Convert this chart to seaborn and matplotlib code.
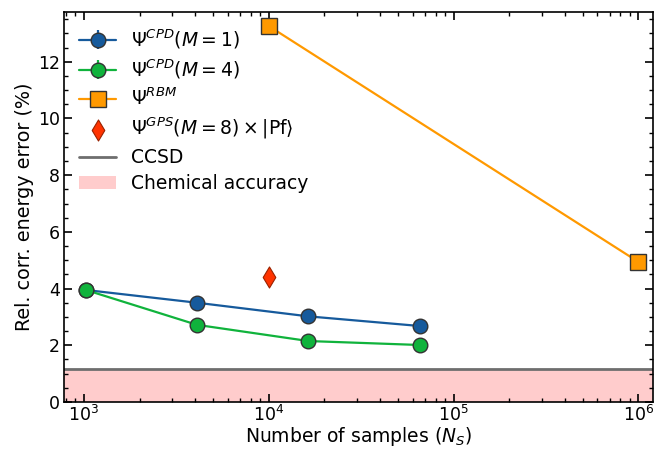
import matplotlib
matplotlib.use("Agg")
import matplotlib.pyplot as plt
import seaborn as sns
import numpy as np
import pandas as pd

# Data
ns_cpd = [1024, 4096, 16384, 65536]
err_cpd_m1 = [3.95, 3.50, 3.02, 2.68]
err_cpd_m4 = [3.95, 2.72, 2.15, 2.01]
sd_cpd_m1 = [0.03, 0.03, 0.03, 0.03]
sd_cpd_m4 = [0.03, 0.03, 0.03, 0.03]
ns_rbm = [10000, 1000000]
err_rbm = [13.26, 4.94]
ns_gps = [10000]
err_gps = [4.41]
ccsd_err = 1.15
chem_acc = 1.15

sns.set_theme(style="ticks")
plt.rcParams['font.family'] = ['DejaVu Sans']
plt.rcParams['mathtext.fontset'] = 'dejavusans'
plt.rcParams['font.size'] = 13.5
for k in ['text.color', 'axes.labelcolor', 'xtick.color', 'ytick.color', 'axes.edgecolor']:
    plt.rcParams[k] = 'black'
plt.rcParams['xtick.major.pad'] = 2.0
plt.rcParams['ytick.major.pad'] = 3.0

fig = plt.figure(figsize=(6.55, 4.49), dpi=100)
ax = fig.add_axes([0.0977, 0.1047, 0.8993, 0.8683])

blue = "#165a9c"
green = "#10b33c"
orange = "#ff9900"
red = "#ff3300"
edge = "#333333"

ax.axhspan(0, chem_acc, color="#ffcccc", lw=0, label="Chemical accuracy", zorder=0)
ax.axhline(ccsd_err, color="#6e6e6e", lw=2, label="CCSD", zorder=1)

ax.errorbar(ns_cpd, err_cpd_m1, yerr=sd_cpd_m1, color=blue, lw=1.6, marker="o",
            ms=10.5, mfc=blue, mec=edge, mew=1, label=r"$\Psi^{CPD}(M=1)$", zorder=3)
ax.errorbar(ns_cpd, err_cpd_m4, yerr=sd_cpd_m4, color=green, lw=1.6, marker="o",
            ms=10.5, mfc=green, mec=edge, mew=1, label=r"$\Psi^{CPD}(M=4)$", zorder=4)

df_rbm = pd.DataFrame({"ns": ns_rbm, "err": err_rbm})
sns.lineplot(data=df_rbm, x="ns", y="err", ax=ax, color=orange, lw=1.6, marker="s",
             markersize=11, markerfacecolor=orange, markeredgecolor=edge, markeredgewidth=1,
             label=r"$\Psi^{RBM}$", zorder=3)

df_gps = pd.DataFrame({"ns": ns_gps, "err": err_gps})
sns.scatterplot(data=df_gps, x="ns", y="err", ax=ax, color=red, marker="d", s=115,
                edgecolor="#992200", linewidth=0.8,
                label=r"$\Psi^{GPS}(M=8)\times|\mathrm{Pf}\rangle$", zorder=3)

ax.set_xscale("log")
ax.set_xlim(780, 1.2e6)
ax.set_ylim(0, 13.75)
ax.set_yticks([0, 2, 4, 6, 8, 10, 12])
ax.yaxis.set_minor_locator(matplotlib.ticker.MultipleLocator(0.5))
ax.set_xlabel(r"Number of samples ($N_S$)", fontsize=13.5, labelpad=0)
ax.set_ylabel("Rel. corr. energy error (%)", fontsize=13.8, labelpad=3)
ax.tick_params(which="both", direction="in", top=True, right=True, labelsize=12.5)
ax.tick_params(which="major", length=6, width=1.2)
ax.tick_params(which="minor", length=3, width=1)
for s in ax.spines.values():
    s.set_linewidth(1.2)
    s.set_color("black")

handles, labels = ax.get_legend_handles_labels()
order = [r"$\Psi^{CPD}(M=1)$", r"$\Psi^{CPD}(M=4)$", r"$\Psi^{RBM}$",
         r"$\Psi^{GPS}(M=8)\times|\mathrm{Pf}\rangle$", "CCSD", "Chemical accuracy"]
hd = dict(zip(labels, handles))
ax.legend([hd[k] for k in order], order, loc="upper left", frameon=False,
          fontsize=13.5, handlelength=2.0, labelspacing=0.36, borderaxespad=0.4,
          handletextpad=0.8)

fig.savefig("out.png", dpi=100)
